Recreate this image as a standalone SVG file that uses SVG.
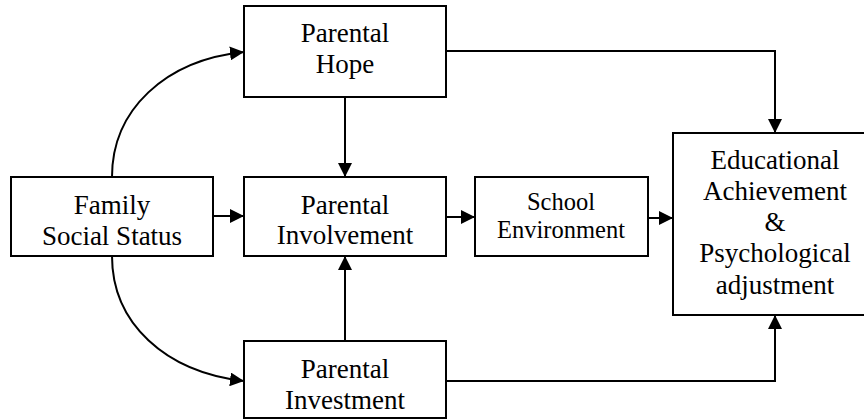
<svg xmlns="http://www.w3.org/2000/svg" width="864" height="420" viewBox="0 0 864 420">
<style>
.box{fill:#fff;stroke:#000;stroke-width:2}
.t{font-family:'Liberation Serif','Times New Roman',serif;font-size:27px;fill:#000;text-anchor:middle}
.s{font-size:24.5px}
.c{fill:none;stroke:#000;stroke-width:2}
</style>
<defs>
<marker id="ah" viewBox="0 0 14 14" refX="14" refY="7" markerWidth="14" markerHeight="14" markerUnits="userSpaceOnUse" orient="auto">
<path d="M0,0 L14,7 L0,14 z" fill="#000"/>
</marker>
</defs>
<rect width="864" height="420" fill="#fff"/>
<g id="connectors">
<path class="c" d="M112,177 C112,110 165,60 244,52" marker-end="url(#ah)"/>
<path class="c" d="M112,256 C112,323 165,372 244,381" marker-end="url(#ah)"/>
<path class="c" d="M213,216 L244,216" marker-end="url(#ah)"/>
<path class="c" d="M345,97 L345,177" marker-end="url(#ah)"/>
<path class="c" d="M345,341 L345,256" marker-end="url(#ah)"/>
<path class="c" d="M446,217 L475,217" marker-end="url(#ah)"/>
<path class="c" d="M648,218 L673,218" marker-end="url(#ah)"/>
<path class="c" d="M446,51 L775,51 L775,133" marker-end="url(#ah)"/>
<path class="c" d="M446,381 L775,381 L775,315" marker-end="url(#ah)"/>
</g>
<g id="hope">
<rect class="box" x="244" y="6" width="202" height="91"/>
<text class="t" x="345" y="42">Parental</text>
<text class="t" x="345" y="73">Hope</text>
</g>
<g id="family">
<rect class="box" x="11" y="177" width="202" height="79"/>
<text class="t" x="112" y="214">Family</text>
<text class="t" x="112" y="245">Social Status</text>
</g>
<g id="involvement">
<rect class="box" x="244" y="177" width="202" height="79"/>
<text class="t" x="345" y="214">Parental</text>
<text class="t" x="345" y="244">Involvement</text>
</g>
<g id="school">
<rect class="box" x="475" y="177" width="173" height="79"/>
<text class="t s" x="561" y="210">School</text>
<text class="t s" x="561" y="238">Environment</text>
</g>
<g id="investment">
<rect class="box" x="244" y="341" width="202" height="77"/>
<text class="t" x="345" y="378">Parental</text>
<text class="t" x="345" y="409">Investment</text>
</g>
<g id="outcome">
<rect class="box" x="673" y="133" width="204" height="182"/>
<text class="t" x="775" y="169">Educational</text>
<text class="t" x="775" y="200">Achievement</text>
<text class="t" x="775" y="231">&amp;</text>
<text class="t" x="775" y="262">Psychological</text>
<text class="t" x="775" y="294">adjustment</text>
</g>
</svg>
